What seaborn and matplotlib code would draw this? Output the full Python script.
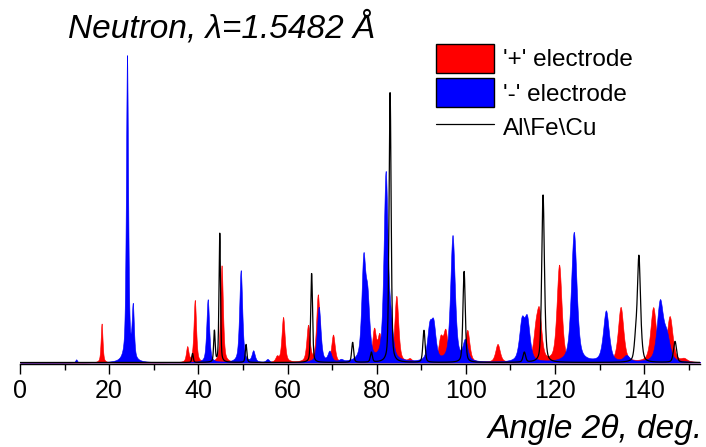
import numpy as np
import pandas as pd
import matplotlib
matplotlib.use("Agg")
import matplotlib.pyplot as plt
import seaborn as sns
from matplotlib.patches import Patch
from matplotlib.lines import Line2D

# peaks: 2theta position (deg) and peak height (arb. units)
plus_pos = [18.3, 37.5, 39.2, 45.2, 57.6, 59.0, 64.6, 66.8, 70.2, 79.4, 80.6, 84.4, 87.4,
            94.3, 95.4, 100.3, 107.1, 115.6, 116.4, 120.9, 134.7, 142.0, 145.7, 148.9]
plus_int = [39, 15, 62, 97, 5, 45, 36, 67, 27, 32, 26, 66, 3,
            23, 30, 32, 18, 25, 45, 97, 55, 54, 45, 3]

minus_pos = [12.6, 24.0, 25.3, 42.1, 49.5, 52.3, 55.5, 67.0, 69.4, 72.0, 77.0, 77.9, 82.0,
             83.1, 91.8, 92.7, 97.0, 99.8, 112.5, 113.7, 124.2, 131.4, 136.0, 143.5, 145.0]
minus_int = [3, 306, 52, 63, 92, 11, 3, 55, 10, 2, 97, 56, 186,
             30, 31, 34, 126, 20, 38, 40, 130, 51, 6, 59, 23]

metal_pos = [38.7, 43.6, 44.8, 50.7, 65.4, 74.6, 78.8, 83.0, 90.6, 99.6, 113.1, 117.3,
             117.8, 138.1, 138.8, 139.4, 146.9]
metal_int = [9, 31, 129, 18, 89, 20, 10, 270, 32, 91, 10, 165,
             9, 22, 102, 8, 21]

x_ticks = [0, 20, 40, 60, 80, 100, 120, 140]
labels = ["'+' electrode", "'-' electrode", "Al\\Fe\\Cu"]


def profile(tt, pos, amp, w0, w1, eta=0.55):
    """Sum of pseudo-Voigt peaks, width growing with angle."""
    y = np.zeros_like(tt)
    for p, a in zip(pos, amp):
        w = w0 + w1 * p
        d = (tt - p) / (w / 2)
        y += a * (eta / (1 + d ** 2) + (1 - eta) * np.exp(-np.log(2) * d ** 2))
    return y


tt = np.linspace(0, 152.5, 8000)
df = pd.DataFrame({
    "angle": tt,
    "plus": profile(tt, plus_pos, plus_int, 0.35, 0.008),
    "minus": profile(tt, minus_pos, minus_int, 0.35, 0.009),
    "metal": profile(tt, metal_pos, metal_int, 0.22, 0.004, eta=0.4),
})

sns.set_style("ticks")
plt.rcParams["font.family"] = ["Liberation Sans", "DejaVu Sans"]
plt.rcParams["text.color"] = "black"
plt.rcParams["xtick.color"] = "black"
plt.rcParams["axes.edgecolor"] = "black"

fig = plt.figure(figsize=(7.06, 4.47), dpi=100)
ax = fig.add_axes([20 / 706, 83 / 447, 680 / 706, 324 / 447])

ax.fill_between(df["angle"], 0, df["plus"], color="#ff0000", lw=0.4)
ax.fill_between(df["angle"], 0, df["minus"], color="#0000ff", lw=0.4)
sns.lineplot(data=df, x="angle", y="metal", color="black", lw=0.9, ax=ax)

ax.set_xlim(0, 152.5)
ax.set_ylim(-1.5, 322.5)
ax.set_xticks(x_ticks)
ax.set_xticks(np.arange(10, 160, 20), minor=True)
ax.set_yticks([])
ax.set_xlabel("")
ax.set_ylabel("")
for s in ["left", "top", "right"]:
    ax.spines[s].set_visible(False)
ax.spines["bottom"].set_linewidth(1.0)
ax.tick_params(axis="x", which="major", direction="out", length=7, width=1,
               labelsize=18, pad=4, colors="black")
ax.tick_params(axis="x", which="minor", direction="out", length=4, width=1, colors="black")

fig.text(68 / 706, 1 - 37 / 447, "Neutron, λ=1.5482 Å", fontsize=24, color="black",
         style="italic", ha="left", va="baseline")
fig.text(703 / 706, 1 - 438 / 447, "Angle 2θ, deg.", fontsize=24, color="black",
         style="italic", ha="right", va="baseline")

handles = [Patch(facecolor="#ff0000", edgecolor="black", lw=1),
           Patch(facecolor="#0000ff", edgecolor="black", lw=1),
           Line2D([], [], color="black", lw=0.9)]
leg = fig.legend(handles, labels, loc="upper left", bbox_to_anchor=(436 / 706, 1 - 44 / 447),
                 frameon=False, fontsize=17.5, borderpad=0, borderaxespad=0,
                 handlelength=2.4, handleheight=1.45, handletextpad=0.35, labelspacing=0.22)
for t in leg.get_texts():
    t.set_color("black")

fig.savefig("out.png", dpi=100)
